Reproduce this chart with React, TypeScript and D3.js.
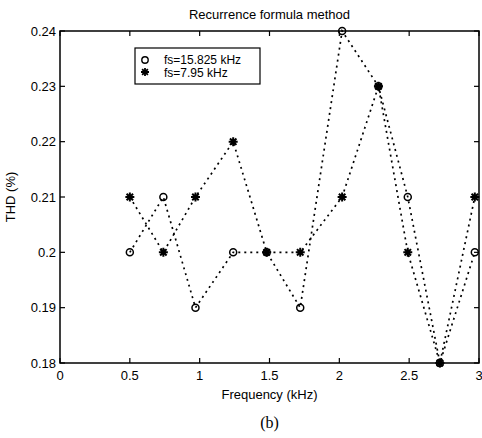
import React from "react";
import * as d3 from "d3";

// Harmonic frequencies (kHz) at which THD was evaluated
const freqs = [0.5, 0.74, 0.97, 1.24, 1.48, 1.72, 2.02, 2.28, 2.49, 2.72, 2.97];
// THD (%) for the two sampling frequencies
const thdFs15825 = [0.2, 0.21, 0.19, 0.2, 0.2, 0.19, 0.24, 0.23, 0.21, 0.18, 0.2];
const thdFs795 = [0.21, 0.2, 0.21, 0.22, 0.2, 0.2, 0.21, 0.23, 0.2, 0.18, 0.21];

const xTicks = [0, 0.5, 1, 1.5, 2, 2.5, 3];
const yTicks = [0.18, 0.19, 0.2, 0.21, 0.22, 0.23, 0.24];
const legendLabels = ["fs=15.825 kHz", "fs=7.95 kHz"];

const W = 482;
const H = 438;
const L = 60, R = 479, T = 31, B = 363;
const font = "'Liberation Sans', Arial, sans-serif";

function starPath(cx: number, cy: number, r: number): string {
  const d = r * 0.72;
  return [
    `M${cx - r},${cy}L${cx + r},${cy}`,
    `M${cx},${cy - r}L${cx},${cy + r}`,
    `M${cx - d},${cy - d}L${cx + d},${cy + d}`,
    `M${cx - d},${cy + d}L${cx + d},${cy - d}`,
  ].join("");
}

export default function App() {
  const x = d3.scaleLinear().domain([0, 3]).range([L, R]);
  const y = d3.scaleLinear().domain([0.18, 0.24]).range([B, T]);
  const line = d3
    .line<[number, number]>()
    .x((d) => x(d[0]))
    .y((d) => y(d[1]));
  const circ = freqs.map((f, i) => [f, thdFs15825[i]] as [number, number]);
  const star = freqs.map((f, i) => [f, thdFs795[i]] as [number, number]);
  const fmtY = (v: number) => (v === 0.2 ? "0.2" : d3.format(".2f")(v));
  const fmtX = (v: number) => String(v);

  return (
    <svg
      width={W}
      height={H}
      style={{ position: "absolute", left: 0, top: 0, background: "#fff" }}
      fontFamily={font}
    >
      <rect x={0} y={0} width={W} height={H} fill="#fff" />
      {/* plotted series */}
      <path d={line(circ) || ""} fill="none" stroke="#000" strokeWidth={1.7} strokeDasharray="2,4" />
      <path d={line(star) || ""} fill="none" stroke="#000" strokeWidth={1.7} strokeDasharray="2,4" />
      {circ.map((d, i) => (
        <circle key={"c" + i} cx={x(d[0])} cy={y(d[1])} r={3.5} fill="none" stroke="#000" strokeWidth={1.5} />
      ))}
      {star.map((d, i) => (
        <path key={"s" + i} d={starPath(x(d[0]), y(d[1]), 4.5)} stroke="#000" strokeWidth={2} fill="none" />
      ))}

      {/* axes box */}
      <rect x={L} y={T} width={R - L} height={B - T} fill="none" stroke="#000" strokeWidth={1.5} />
      {xTicks.map((t) => (
        <g key={"x" + t}>
          <line x1={x(t)} x2={x(t)} y1={B} y2={B - 5} stroke="#000" strokeWidth={1.2} />
          <line x1={x(t)} x2={x(t)} y1={T} y2={T + 5} stroke="#000" strokeWidth={1.2} />
          <text x={x(t)} y={B + 17} fontSize={13} textAnchor="middle" fill="#000">
            {fmtX(t)}
          </text>
        </g>
      ))}
      {yTicks.map((t) => (
        <g key={"y" + t}>
          <line x1={L} x2={L + 5} y1={y(t)} y2={y(t)} stroke="#000" strokeWidth={1.2} />
          <line x1={R} x2={R - 5} y1={y(t)} y2={y(t)} stroke="#000" strokeWidth={1.2} />
          <text x={L - 4} y={y(t) + 4.5} fontSize={13} textAnchor="end" fill="#000">
            {fmtY(t)}
          </text>
        </g>
      ))}

      {/* titles */}
      <text x={(L + R) / 2} y={19} fontSize={13} textAnchor="middle" fill="#000">
        Recurrence formula method
      </text>
      <text
        transform={`translate(15,${(T + B) / 2}) rotate(-90)`}
        fontSize={13}
        textAnchor="middle"
        fill="#000"
      >
        THD (%)
      </text>
      <text x={(L + R) / 2} y={399} fontSize={13} textAnchor="middle" fill="#000">
        Frequency (kHz)
      </text>
      <text x={(L + R) / 2} y={428} fontSize={16} textAnchor="middle" fill="#000" fontFamily="'Liberation Serif', 'Times New Roman', serif">
        (b)
      </text>

      {/* legend */}
      <g>
        <rect x={135} y={48} width={125} height={36} fill="#fff" stroke="#000" strokeWidth={1.2} />
        <circle cx={145} cy={60} r={3.2} fill="none" stroke="#000" strokeWidth={1.4} />
        <path d={starPath(145, 72, 4)} stroke="#000" strokeWidth={1.8} fill="none" />
        <text x={164} y={64} fontSize={12} fill="#000">{legendLabels[0]}</text>
        <text x={164} y={77} fontSize={12} fill="#000">{legendLabels[1]}</text>
      </g>
    </svg>
  );
}
